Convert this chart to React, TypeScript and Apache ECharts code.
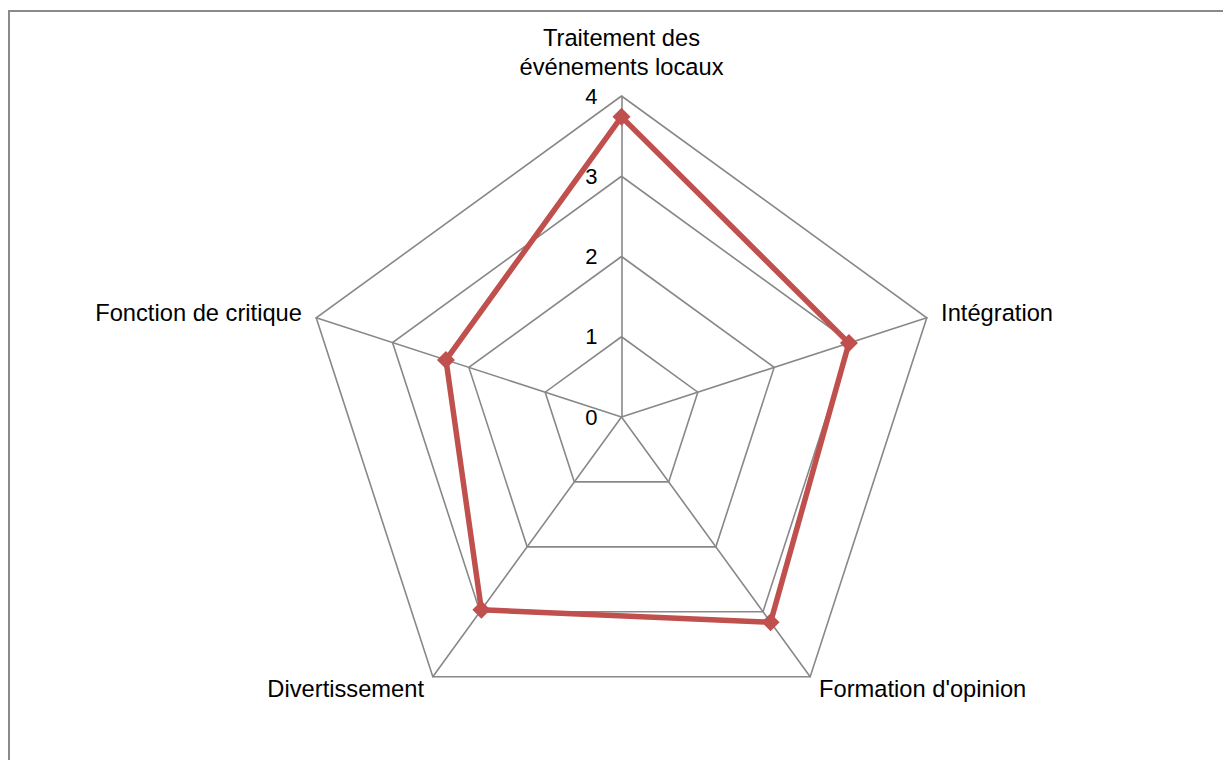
import React, { useEffect, useRef } from "react";
import * as echarts from "echarts";

// Categories in the reference order (clockwise from the top)
const categories: string[] = [
  "Traitement des\névénements locaux",
  "Intégration",
  "Formation d'opinion",
  "Divertissement",
  "Fonction de critique",
];
const values: number[] = [3.74, 2.98, 3.16, 2.97, 2.3];
const axisMax = 4;
const splitCount = 4;

const FONT = "Arial, 'Liberation Sans', sans-serif";

export default function App() {
  const ref = useRef<HTMLDivElement>(null);
  useEffect(() => {
    if (!ref.current) return;
    const chart = echarts.init(ref.current, undefined, { renderer: "svg" });
    // ECharts lays indicators counter-clockwise; reorder so the picture is clockwise
    const order = [0, ...categories.slice(1).map((_, i) => categories.length - 1 - i)];
    const indicator = order.map((idx, k) => ({
      name: categories[idx],
      max: axisMax,
      min: 0,
      ...(k === 0
        ? {
            axisLabel: {
              show: true,
              margin: 24,
              color: "#000",
              fontSize: 22,
              fontFamily: FONT,
            },
          }
        : {}),
    }));
    const data = order.map((idx) => values[idx]);
    chart.setOption({
      animation: false,
      backgroundColor: "#fff",
      graphic: [
        {
          type: "rect",
          shape: { x: 9, y: 11, width: 1400, height: 900 },
          style: { fill: "none", stroke: "#8a8a8a", lineWidth: 2 },
          silent: true,
        },
      ],
      radar: {
        center: [621.5, 417],
        radius: 321,
        startAngle: 90,
        shape: "polygon",
        splitNumber: splitCount,
        nameGap: 15,
        axisName: {
          color: "#000",
          fontSize: 23.7,
          lineHeight: 28.5,
          fontFamily: FONT,
        },
        axisLine: { lineStyle: { color: "#888888", width: 1.6 } },
        splitLine: { lineStyle: { color: "#888888", width: 1.6 } },
        splitArea: { show: false },
        axisTick: { show: false },
        axisLabel: { show: false },
        indicator,
      },
      series: [
        {
          type: "radar",
          symbol: "diamond",
          symbolSize: 18,
          lineStyle: { color: "#C0504D", width: 5.5 },
          itemStyle: { color: "#C0504D" },
          data: [{ value: data }],
        },
      ],
    });
    return () => chart.dispose();
  }, []);
  return (
    <div
      ref={ref}
      style={{ position: "fixed", left: 0, top: 0, width: 1223, height: 760 }}
    />
  );
}
